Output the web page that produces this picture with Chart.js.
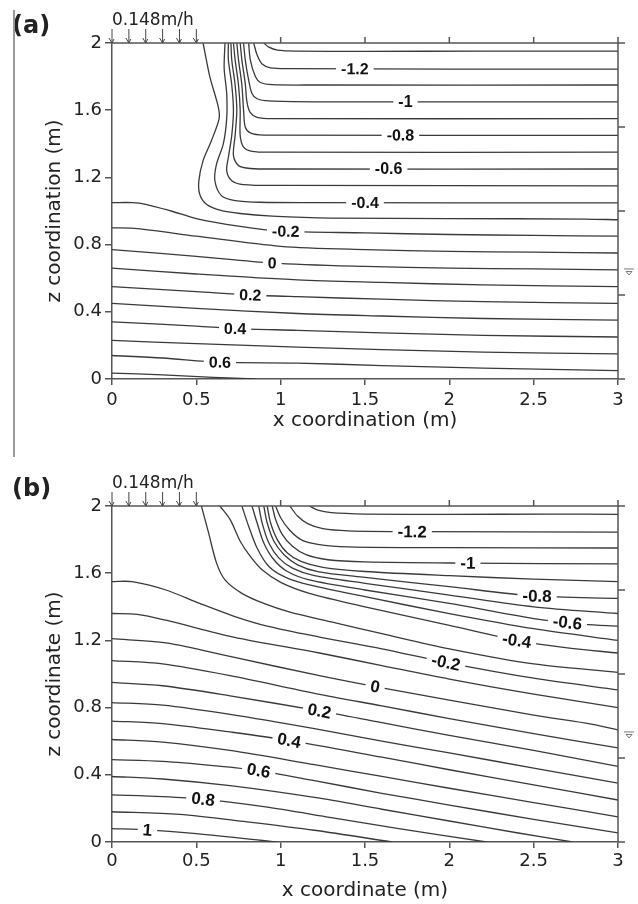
<!DOCTYPE html>
<html>
<head>
<meta charset="utf-8">
<script src="https://cdn.jsdelivr.net/npm/chart.js@4.4.1/dist/chart.umd.min.js"></script>
<style>
  body { margin: 0; background: #fff; }
  canvas { display: block; }
</style>
</head>
<body>
<canvas id="chartA" width="638" height="450"></canvas>
<canvas id="chartB" width="638" height="454"></canvas>
<script>
// Livelli delle isolinee (m) e punti [x, z]
const levelsA = [-1.3, -1.2, -1.1, -1, -0.9, -0.8, -0.7, -0.6, -0.5, -0.4, -0.3, -0.2, -0.1, 0, 0.1, 0.2, 0.3, 0.4, 0.5, 0.6, 0.7];
const linesA = [
  [[0.90,2],[0.93,1.975],[0.98,1.958],[1.1,1.952],[1.5,1.95],[2.2,1.952],[3,1.952]],
  [[0.84,2],[0.86,1.93],[0.89,1.875],[0.94,1.852],[1.05,1.847],[2,1.845],[3,1.845]],
  [[0.81,2],[0.82,1.9],[0.85,1.80],[0.88,1.765],[0.95,1.752],[1.2,1.75],[3,1.75]],
  [[0.78,2],[0.79,1.9],[0.81,1.78],[0.83,1.70],[0.86,1.668],[0.93,1.655],[1.2,1.65],[3,1.65]],
  [[0.76,2],[0.77,1.9],[0.79,1.76],[0.80,1.65],[0.82,1.585],[0.86,1.558],[0.95,1.55],[3,1.55]],
  [[0.74,2],[0.75,1.9],[0.77,1.75],[0.78,1.6],[0.79,1.50],[0.82,1.465],[0.9,1.452],[3,1.45]],
  [[0.72,2],[0.73,1.9],[0.75,1.75],[0.76,1.6],[0.76,1.45],[0.78,1.38],[0.83,1.355],[0.95,1.35],[3,1.35]],
  [[0.705,2],[0.71,1.9],[0.73,1.75],[0.74,1.6],[0.73,1.45],[0.72,1.33],[0.75,1.27],[0.82,1.253],[1.0,1.25],[3,1.25]],
  [[0.69,2],[0.69,1.9],[0.71,1.75],[0.72,1.6],[0.71,1.45],[0.69,1.32],[0.68,1.24],[0.71,1.18],[0.78,1.157],[1.0,1.152],[3,1.15]],
  [[0.67,2],[0.665,1.85],[0.68,1.7],[0.68,1.55],[0.66,1.40],[0.62,1.28],[0.61,1.18],[0.65,1.09],[0.73,1.062],[0.88,1.052],[1.2,1.05],[3,1.048]],
  [[0.54,2],[0.58,1.8],[0.63,1.62],[0.635,1.55],[0.59,1.42],[0.54,1.30],[0.515,1.18],[0.52,1.10],[0.56,1.04],[0.64,1.005],[0.76,0.985],[0.95,0.97],[1.3,0.958],[2,0.955],[2.8,0.952],[3,0.948]],
  [[0,1.05],[0.12,1.05],[0.2,1.04],[0.35,1.0],[0.5,0.955],[0.75,0.91],[1.0,0.88],[1.5,0.87],[2,0.86],[2.5,0.855],[3,0.85]],
  [[0,0.90],[0.15,0.895],[0.5,0.85],[1.0,0.79],[1.5,0.77],[2,0.76],[2.5,0.755],[3,0.75]],
  [[0,0.77],[0.5,0.73],[0.95,0.69],[1.5,0.67],[2,0.66],[2.5,0.655],[3,0.65]],
  [[0,0.66],[0.5,0.625],[1.1,0.59],[1.6,0.575],[2.2,0.56],[3,0.55]],
  [[0,0.55],[0.5,0.52],[0.82,0.50],[1.1,0.49],[1.6,0.475],[2.2,0.46],[3,0.45]],
  [[0,0.45],[0.5,0.42],[1.1,0.39],[1.6,0.375],[2.2,0.36],[3,0.35]],
  [[0,0.34],[0.5,0.315],[0.73,0.30],[1.1,0.29],[1.6,0.275],[2.2,0.26],[3,0.25]],
  [[0,0.23],[0.5,0.21],[1.1,0.19],[1.6,0.175],[2.2,0.16],[3,0.15]],
  [[0,0.14],[0.3,0.125],[0.64,0.10],[1.1,0.095],[1.6,0.08],[2.2,0.065],[3,0.05]],
  [[0,0.035],[0.3,0.025],[0.6,0.01],[0.85,0]]
];
const labelLevelsA = [-1.2, -1, -0.8, -0.6, -0.4, -0.2, 0, 0.2, 0.4, 0.6];
const labelXA = [1.44, 1.74, 1.71, 1.64, 1.50, 1.03, 0.95, 0.82, 0.73, 0.64];

const levelsB = [-1.3, -1.2, -1.1, -1, -0.9, -0.8, -0.7, -0.6, -0.5, -0.4, -0.3, -0.2, -0.1, 0, 0.1, 0.2, 0.3, 0.4, 0.5, 0.6, 0.7, 0.8, 0.9, 1];
const linesB = [
  [[1.17,2],[1.22,1.975],[1.3,1.96],[1.5,1.952],[2,1.95],[2.6,1.952],[3,1.95]],
  [[1.055,2],[1.1,1.94],[1.16,1.895],[1.25,1.865],[1.4,1.852],[1.8,1.847],[3,1.845]],
  [[0.97,2],[1.0,1.93],[1.05,1.86],[1.12,1.80],[1.22,1.772],[1.4,1.757],[2,1.752],[3,1.75]],
  [[0.95,2],[0.97,1.92],[1.01,1.83],[1.07,1.76],[1.15,1.71],[1.28,1.68],[1.5,1.667],[2.1,1.66],[3,1.655]],
  [[0.92,2],[0.94,1.9],[0.98,1.80],[1.04,1.72],[1.12,1.67],[1.25,1.635],[1.5,1.61],[2,1.585],[2.5,1.565],[3,1.55]],
  [[0.90,2],[0.92,1.9],[0.96,1.79],[1.02,1.71],[1.1,1.65],[1.22,1.61],[1.5,1.575],[2,1.52],[2.5,1.465],[3,1.45]],
  [[0.87,2],[0.89,1.9],[0.93,1.78],[0.99,1.69],[1.07,1.63],[1.2,1.585],[1.5,1.54],[2,1.47],[2.5,1.40],[3,1.36]],
  [[0.83,2],[0.86,1.9],[0.90,1.78],[0.96,1.68],[1.04,1.61],[1.17,1.56],[1.5,1.50],[2,1.42],[2.5,1.33],[2.8,1.295],[3,1.285]],
  [[0.77,2],[0.81,1.88],[0.86,1.75],[0.93,1.64],[1.03,1.575],[1.17,1.53],[1.5,1.46],[2,1.36],[2.5,1.27],[3,1.20]],
  [[0.64,2],[0.70,1.92],[0.76,1.79],[0.82,1.70],[0.89,1.62],[1.0,1.545],[1.17,1.48],[1.5,1.40],[2,1.29],[2.4,1.20],[2.7,1.155],[3,1.125]],
  [[0.53,2],[0.57,1.85],[0.62,1.66],[0.67,1.56],[0.77,1.48],[0.9,1.42],[1.05,1.37],[1.3,1.31],[1.6,1.24],[2,1.15],[2.5,1.06],[3,1.01]],
  [[0,1.55],[0.12,1.55],[0.32,1.50],[0.52,1.42],[0.72,1.345],[0.92,1.285],[1.23,1.22],[1.6,1.15],[2,1.065],[2.5,0.975],[3,0.905]],
  [[0,1.36],[0.15,1.355],[0.32,1.32],[0.72,1.22],[1.23,1.125],[1.6,1.05],[2,0.97],[2.5,0.88],[3,0.80]],
  [[0,1.21],[0.32,1.185],[0.72,1.10],[1.23,0.99],[1.56,0.925],[2,0.845],[2.5,0.755],[2.85,0.70],[3,0.667]],
  [[0,1.08],[0.3,1.06],[0.7,0.99],[1.2,0.885],[1.6,0.81],[2,0.735],[2.5,0.645],[3,0.56]],
  [[0,0.95],[0.3,0.93],[0.7,0.87],[1.23,0.78],[1.6,0.71],[2,0.635],[2.5,0.545],[3,0.45]],
  [[0,0.83],[0.3,0.815],[0.7,0.76],[1.2,0.675],[1.6,0.60],[2,0.53],[2.5,0.44],[3,0.35]],
  [[0,0.72],[0.3,0.705],[0.7,0.655],[1.05,0.605],[1.6,0.505],[2,0.43],[2.5,0.34],[3,0.25]],
  [[0,0.61],[0.3,0.595],[0.7,0.545],[1.2,0.46],[1.6,0.39],[2,0.32],[2.5,0.235],[3,0.15]],
  [[0,0.49],[0.3,0.48],[0.6,0.455],[0.87,0.425],[1.2,0.365],[1.6,0.29],[2,0.22],[2.5,0.135],[3,0.054]],
  [[0,0.39],[0.3,0.375],[0.7,0.335],[1.2,0.265],[1.6,0.195],[2,0.125],[2.4,0.055],[2.73,0]],
  [[0,0.28],[0.3,0.27],[0.54,0.255],[0.9,0.21],[1.3,0.145],[1.7,0.08],[2.22,0]],
  [[0,0.18],[0.4,0.165],[0.8,0.12],[1.2,0.07],[1.66,0]],
  [[0,0.08],[0.21,0.072],[0.5,0.05],[0.98,0]]
];
const labelLevelsB = [-1.2, -1, -0.8, -0.6, -0.4, -0.2, 0, 0.2, 0.4, 0.6, 0.8, 1];
const labelXB = [1.78, 2.11, 2.52, 2.70, 2.40, 1.98, 1.56, 1.23, 1.05, 0.87, 0.54, 0.21];

// Pioggia in ingresso, falda e tacche degli assi secondari
const rainX = [0, 0.1, 0.2, 0.3, 0.4, 0.5];
const rainText = '0.148m/h';
const waterTableZ = 0.655;
const topTicks = [1, 1.5, 2, 2.5, 3];
const rightTicks = [0, 0.5, 1, 1.5, 2];

Chart.defaults.font.family = "'DejaVu Sans', sans-serif";
Chart.defaults.color = '#222';

// Trova la posizione (e l'inclinazione) di un'isolinea per una data x
function puntoSullaLinea(chart, ds, xv) {
  const pts = chart.data.datasets[ds].data;
  const sx = chart.scales.x, sy = chart.scales.y;
  for (let i = pts.length - 1; i > 0; i--) {
    const a = pts[i - 1], b = pts[i];
    if ((a.x <= xv && xv <= b.x) || (b.x <= xv && xv <= a.x)) {
      const t = b.x === a.x ? 0 : (xv - a.x) / (b.x - a.x);
      const zv = a.y + t * (b.y - a.y);
      const ang = Math.atan2(sy.getPixelForValue(b.y) - sy.getPixelForValue(a.y),
                             sx.getPixelForValue(b.x) - sx.getPixelForValue(a.x));
      return { px: sx.getPixelForValue(xv), py: sy.getPixelForValue(zv), ang: ang };
    }
  }
  return null;
}

// Tacche senza zeri finali: 2 e non 2.0
const formatta = v => String(Number(v.toFixed(2)));

const decorazioni = {
  id: 'decorazioni',
  afterDatasetsDraw(chart, args, opts) {
    const { ctx } = chart;
    ctx.save();
    // Etichette delle isolinee
    ctx.font = opts.labelFont;
    ctx.textAlign = 'center';
    ctx.textBaseline = 'middle';
    opts.labelLevels.forEach((lv, i) => {
      const ds = opts.levels.indexOf(lv);
      const p = puntoSullaLinea(chart, ds, opts.labelX[i]);
      if (!p) return;
      const txt = String(lv);
      const w = ctx.measureText(txt).width;
      ctx.save();
      ctx.translate(p.px, p.py);
      ctx.rotate(p.ang);
      ctx.fillStyle = '#fff';
      ctx.fillRect(-w / 2 - 5, -7, w + 10, 14);
      ctx.fillStyle = '#111';
      ctx.fillText(txt, 0, 1);
      ctx.restore();
    });
    ctx.restore();
  },
  afterDraw(chart, args, opts) {
    const { ctx, chartArea: a, scales: { x, y } } = chart;
    ctx.save();
    ctx.strokeStyle = '#555';
    ctx.lineWidth = 1.5;
    ctx.beginPath();
    // bordo superiore e destro
    ctx.moveTo(a.left, a.top);
    ctx.lineTo(a.right, a.top);
    ctx.moveTo(a.right, a.top);
    ctx.lineTo(a.right, a.bottom);
    topTicks.forEach(v => {
      const px = x.getPixelForValue(v);
      ctx.moveTo(px, a.top);
      ctx.lineTo(px, a.top - 6);
    });
    rightTicks.forEach(v => {
      const py = y.getPixelForValue(v);
      ctx.moveTo(a.right, py);
      ctx.lineTo(a.right + 7, py);
    });
    ctx.stroke();

    // frecce della pioggia
    ctx.strokeStyle = '#444';
    ctx.lineWidth = 1;
    ctx.beginPath();
    rainX.forEach(v => {
      const px = x.getPixelForValue(v);
      ctx.moveTo(px, a.top - 14);
      ctx.lineTo(px, a.top);
      ctx.moveTo(px - 3, a.top - 5);
      ctx.lineTo(px, a.top);
      ctx.lineTo(px + 2, a.top - 4);
    });
    ctx.stroke();

    // simbolo della falda
    const wy = y.getPixelForValue(waterTableZ);
    ctx.strokeStyle = '#777';
    ctx.beginPath();
    ctx.moveTo(a.right + 6, wy);
    ctx.lineTo(a.right + 16, wy);
    ctx.moveTo(a.right + 8, wy + 2.5);
    ctx.lineTo(a.right + 14, wy + 2.5);
    ctx.lineTo(a.right + 11, wy + 6);
    ctx.closePath();
    ctx.stroke();

    // testi
    ctx.fillStyle = '#222';
    ctx.textBaseline = 'alphabetic';
    ctx.textAlign = 'left';
    ctx.font = "17px 'DejaVu Sans'";
    ctx.fillText(rainText, a.left, a.top - 18);
    ctx.font = "bold 24px 'DejaVu Sans'";
    ctx.fillText(opts.tag, 12, a.top - 10);

    // riga verticale grigia della scansione
    if (opts.sideLine) {
      ctx.strokeStyle = '#999';
      ctx.lineWidth = 2;
      ctx.beginPath();
      ctx.moveTo(14, opts.sideLine[0]);
      ctx.lineTo(14, opts.sideLine[1]);
      ctx.stroke();
    }
    ctx.restore();
  }
};

function creaGrafico(id, p) {
  return new Chart(document.getElementById(id), {
    type: 'scatter',
    data: {
      datasets: p.lines.map((pts, i) => ({
        label: String(p.levels[i]),
        data: pts.map(q => ({ x: q[0], y: q[1] })),
        showLine: true,
        pointRadius: 0,
        borderColor: '#3a3a3a',
        borderWidth: 1.3,
        tension: 0.3,
        fill: false
      }))
    },
    options: {
      responsive: false,
      animation: false,
      events: [],
      layout: { padding: { top: p.top, right: 20, left: 0, bottom: 0 } },
      scales: {
        x: {
          type: 'linear', min: 0, max: 3,
          afterFit: s => { s.height = p.xHeight; },
          ticks: { stepSize: 0.5, padding: p.tickPad, font: { size: 18 }, color: '#222', maxRotation: 0, callback: formatta },
          grid: { drawOnChartArea: false, tickLength: 6, color: '#555', lineWidth: 1.5 },
          border: { color: '#555', width: 1.5 },
          title: { display: true, text: p.xTitle, font: { size: 20 }, color: '#222', padding: { top: 0, bottom: p.xTitlePad } }
        },
        y: {
          type: 'linear', min: 0, max: 2,
          afterFit: s => { s.width = 112; },
          ticks: { stepSize: 0.4, padding: 3, font: { size: 18 }, color: '#222', callback: formatta },
          grid: { drawOnChartArea: false, tickLength: 7, color: '#555', lineWidth: 1.5 },
          border: { color: '#555', width: 1.5 },
          title: { display: true, text: p.yTitle, font: { size: 20 }, color: '#222', padding: { top: 43, bottom: 0 } }
        }
      },
      plugins: {
        legend: { display: false },
        tooltip: { enabled: false },
        decorazioni: {
          levels: p.levels, labelLevels: p.labelLevels, labelX: p.labelX,
          labelFont: p.labelFont, tag: p.tag, sideLine: p.sideLine
        }
      }
    },
    plugins: [decorazioni]
  });
}

creaGrafico('chartA', {
  lines: linesA, levels: levelsA, labelLevels: labelLevelsA, labelX: labelXA,
  top: 43, xHeight: 71, tickPad: 5, xTitlePad: 17,
  xTitle: 'x coordination (m)', yTitle: 'z coordination (m)',
  labelFont: "bold 16px 'Liberation Sans', Arial, sans-serif", tag: '(a)', sideLine: [10, 450]
});
creaGrafico('chartB', {
  lines: linesB, levels: levelsB, labelLevels: labelLevelsB, labelX: labelXB,
  top: 56, xHeight: 62, tickPad: 3, xTitlePad: 1,
  xTitle: 'x coordinate (m)', yTitle: 'z coordinate (m)',
  labelFont: "bold 17px 'Liberation Sans', Arial, sans-serif", tag: '(b)', sideLine: [0, 7]
});
</script>
</body>
</html>
